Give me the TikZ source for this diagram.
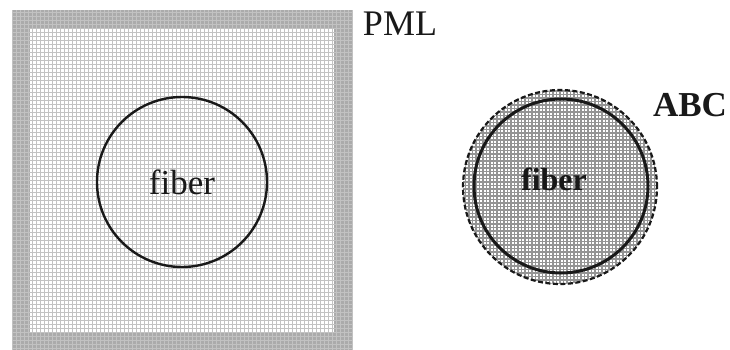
\documentclass[tikz,border=0pt]{standalone}
\usepackage{fontspec}
\setmainfont{Liberation Serif}
\usetikzlibrary{positioning}

\begin{document}
\begin{tikzpicture}[x=1pt,y=-1pt]
	\tikzstyle{pmlgrid}=[draw=black!24, line width=0.8pt]
	\tikzstyle{coregrid}=[draw=black!24, line width=0.7pt]
	\tikzstyle{abcgrid}=[draw=black!42, line width=1.1pt]
	\tikzstyle{fiberline}=[circle, draw=black!90, inner sep=0pt]
	\tikzstyle{lbl}=[inner sep=0pt, text=black!90]
	\useasboundingbox (0,0) rectangle (730,350);
	% PML frame
	\fill[black!33] (12,10) rectangle (352,350);
	\draw[pmlgrid, step=4pt] (12,10) grid (352,350);
	\fill[white] (30,28) rectangle (334,332);
	\draw[coregrid, step=4pt] (30,28) grid (334,332);
	\node[fiberline, line width=2.4pt, minimum size=170pt] (fiberA) at (182,182) {};
	\node[lbl, anchor=base, font=\fontsize{35}{35}\selectfont] (txtA) at (182,194) {fiber};
	\node[lbl, anchor=center, font=\fontsize{36}{36}\selectfont] (pml) at (400,24) {PML};
	% ABC fiber
	\begin{scope}
		\clip (560,187) circle (97);
		\fill[white] (460,88) rectangle (660,286);
		\draw[abcgrid, step=3.5pt] (460,88) grid (660,286);
	\end{scope}
	\node[fiberline, line width=2.2pt, dash pattern=on 5pt off 2.5pt, minimum size=194pt] (abc) at (560,187) {};
	\node[fiberline, line width=3pt, minimum size=174pt] (fiberB) at (561,186) {};
	\node[lbl, anchor=base, font=\bfseries\fontsize{32}{32}\selectfont] (txtB) at (554,190) {fiber};
	\node[lbl, anchor=center, font=\bfseries\fontsize{35}{35}\selectfont] (abclbl) at (690,105) {ABC};
\end{tikzpicture}
\end{document}
